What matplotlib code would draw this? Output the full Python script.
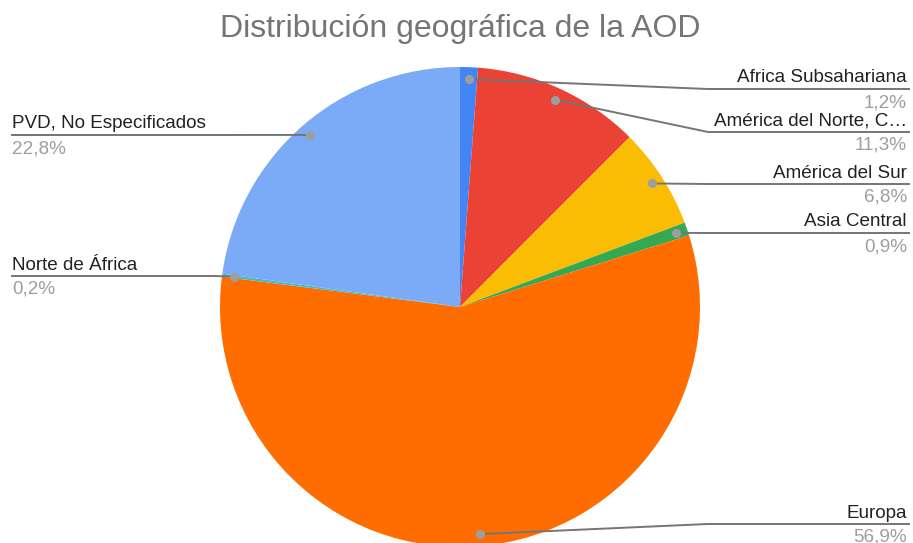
import matplotlib.pyplot as plt
import numpy as np

# data
regions = ["Africa Subsahariana", "América del Norte, C…", "América del Sur",
           "Asia Central", "Europa", "Norte de África", "PVD, No Especificados"]
shares = [1.2, 11.3, 6.8, 0.9, 56.9, 0.2, 22.8]
colors = ["#4285F4", "#EA4335", "#FBBC04", "#34A853", "#FF6D01", "#46BDC6", "#7BAAF7"]

# label rows in pixel space (from top), side of the chart
label_rows = [89, 132, 184, 233, 524, 276, 135]
label_side = ["r", "r", "r", "r", "r", "l", "l"]

W, H = 913, 543
plt.rcParams['font.family'] = ['Liberation Sans', 'DejaVu Sans']

fig = plt.figure(figsize=(W / 100, H / 100), dpi=100)
ax = fig.add_axes([0, 0, 1, 1])

cx, cy, r = 460, H - 307, 240
wedges, _ = ax.pie(shares, colors=colors, startangle=90, counterclock=False,
                   center=(cx, cy), radius=r, wedgeprops=dict(linewidth=0))

ax.set_xlim(0, W)
ax.set_ylim(0, H)
ax.set_aspect('equal')
ax.axis('off')

line_c = "#757575"
for w, name, val, row, side in zip(wedges, regions, shares, label_rows, label_side):
    mid = np.deg2rad((w.theta1 + w.theta2) / 2)
    dx = cx + 0.95 * r * np.cos(mid)
    dy = cy + 0.95 * r * np.sin(mid)
    ly = H - row
    if side == "r":
        ex, end, ha, tx = 708, 909, "right", 907
    else:
        ex, end, ha, tx = 215, 12, "left", 12
    ax.plot([dx, ex, end], [dy, ly, ly], color=line_c, lw=1.4, zorder=3)
    ax.plot(dx, dy, 'o', color="#9e9e9e", ms=5.5, zorder=4)
    ax.text(tx, ly + 6.5, name, ha=ha, va="baseline", fontsize=13.6, color="#222222")
    ax.text(tx, ly - 18, f"{val:.1f}%".replace(".", ","), ha=ha, va="baseline",
            fontsize=13.6, color="#9e9e9e")

fig.text(460 / W, 1 - 37 / H, "Distribución geográfica de la AOD", ha="center",
         va="baseline", fontsize=23, color="#757575")

fig.savefig("out.png", dpi=100)
